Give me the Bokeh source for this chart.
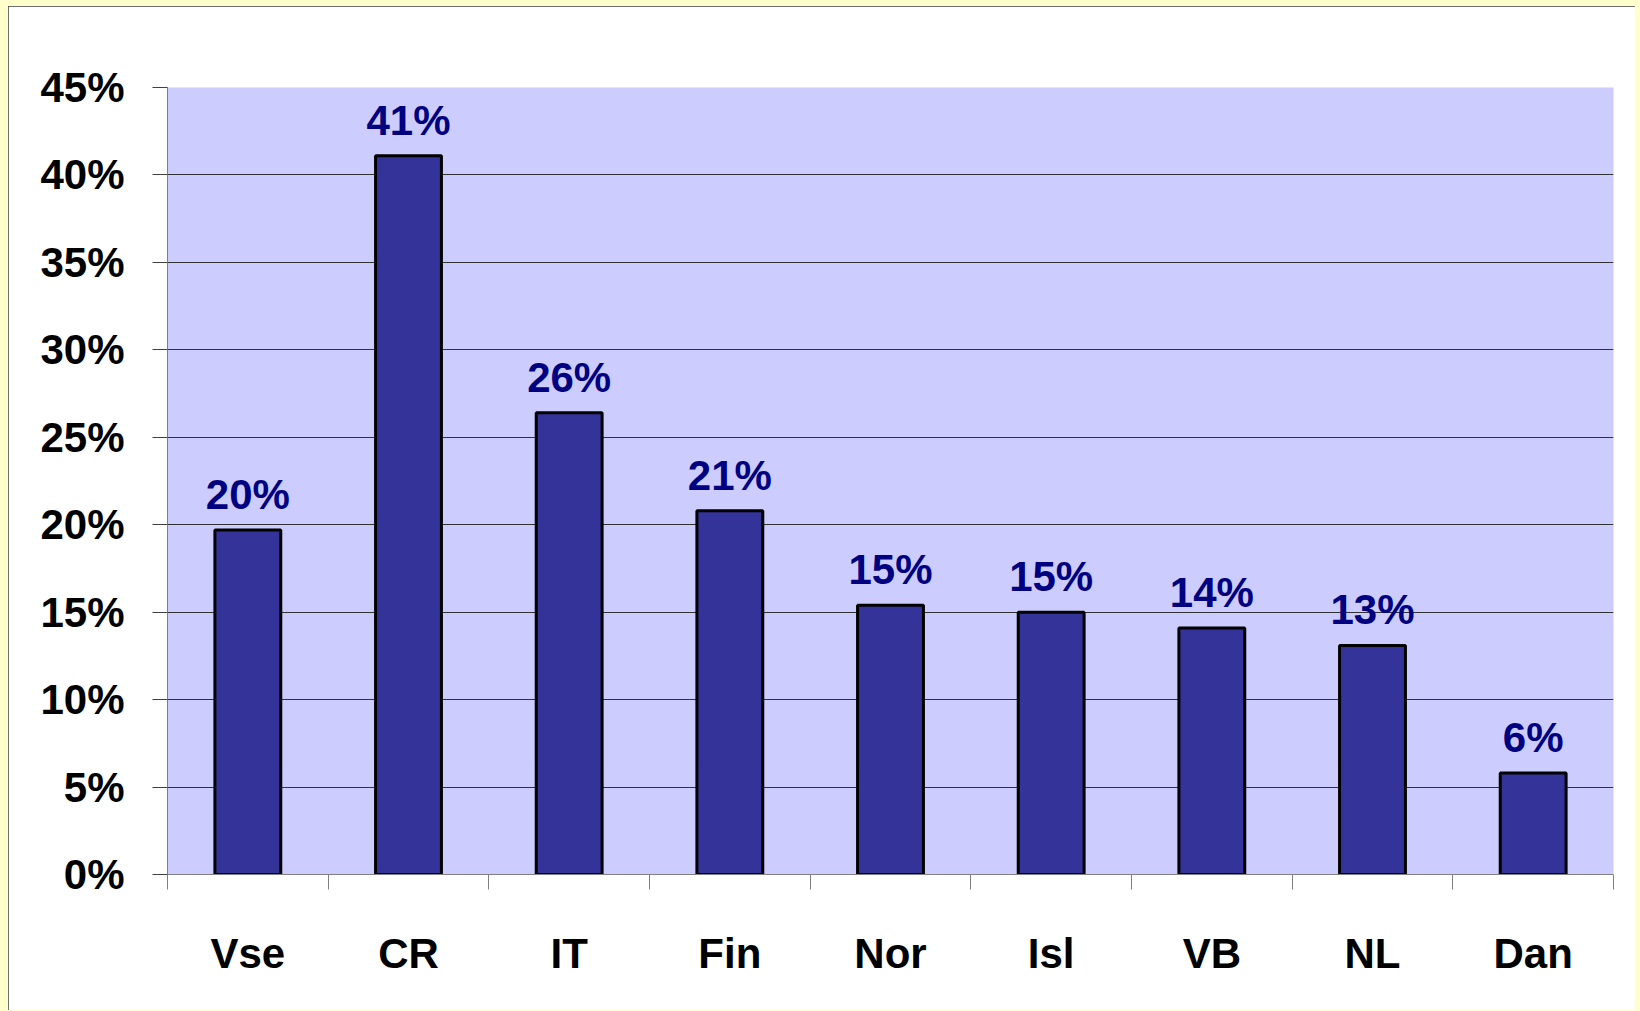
from bokeh.plotting import figure
from bokeh.models import (FactorRange, Range1d, LinearAxis, CategoricalAxis, FixedTicker,
                          PrintfTickFormatter, ColumnDataSource, LabelSet)
from bokeh.core.properties import value
from bokeh.embed import file_html
from bokeh.resources import INLINE

categories = ["Vse", "CR", "IT", "Fin", "Nor", "Isl", "VB", "NL", "Dan"]
values = [19.7, 41.1, 26.4, 20.8, 15.4, 15.0, 14.1, 13.1, 5.8]
value_labels = [f"{round(v)}%" for v in values]
y_ticks = [0, 5, 10, 15, 20, 25, 30, 35, 40, 45]

FONT = "Liberation Sans"
FS = "42px"

p = figure(x_range=FactorRange(*categories, range_padding=0), y_range=Range1d(0, 45),
           frame_width=1446, frame_height=787,
           min_border_left=159, min_border_right=22, min_border_top=81, min_border_bottom=136,
           output_backend="svg", toolbar_location=None, x_axis_location=None,
           y_axis_location=None)
p.background_fill_color = "#CCCCFF"
p.border_fill_color = "white"
p.outline_line_color = None
p.styles = {"outline": "2px solid #404040", "outline-offset": "-2px",
            "margin-left": "8px", "margin-top": "6px"}

# grid
p.xgrid.visible = False
p.ygrid.ticker = FixedTicker(ticks=y_ticks[1:-1])
p.ygrid.grid_line_color = "#333333"
p.ygrid.grid_line_width = 1

# y axis
yax = LinearAxis(ticker=FixedTicker(ticks=y_ticks), formatter=PrintfTickFormatter(format="%d%%"))
yax.axis_line_color = "#808080"
yax.major_tick_line_color = "#404040"
yax.major_tick_out = 15
yax.major_tick_in = 0
yax.minor_tick_line_color = None
yax.major_label_standoff = 28
yax.major_label_text_font = FONT
yax.major_label_text_font_style = "bold"
yax.major_label_text_font_size = FS
yax.major_label_text_color = "black"
p.add_layout(yax, "left")

# x boundary ticks (synthetic category coordinates 0..9)
tax = LinearAxis(ticker=FixedTicker(ticks=list(range(len(categories) + 1))))
tax.axis_line_color = "#808080"
tax.major_tick_line_color = "#808080"
tax.major_tick_out = 15
tax.major_tick_in = 0
tax.minor_tick_line_color = None
tax.major_label_text_font_size = "1px"
tax.major_label_text_alpha = 0
tax.major_label_standoff = 0
p.add_layout(tax, "below")

# category labels
cax = CategoricalAxis()
cax.axis_line_color = None
cax.major_tick_line_color = None
cax.major_tick_out = 0
cax.major_label_standoff = 40
cax.major_label_text_font = FONT
cax.major_label_text_font_style = "bold"
cax.major_label_text_font_size = FS
cax.major_label_text_color = "black"
p.add_layout(cax, "below")

src = ColumnDataSource(data=dict(cat=categories, val=values, lab=value_labels))
p.vbar(x="cat", top="val", width=0.41, bottom=0, source=src,
       fill_color="#333399", line_color="black", line_width=3)

labels = LabelSet(x="cat", y="val", text="lab", source=src, y_offset=21,
                  text_align="center", text_baseline="alphabetic",
                  text_font=value(FONT), text_font_style="bold", text_font_size=FS,
                  text_color="#000080")
p.add_layout(labels)

html = file_html(p, INLINE)
html = html.replace("</head>",
                    "<style>html, body { background: #FFFFCC !important; overflow: hidden; }</style></head>", 1)
open("out.html", "w").write(html)
